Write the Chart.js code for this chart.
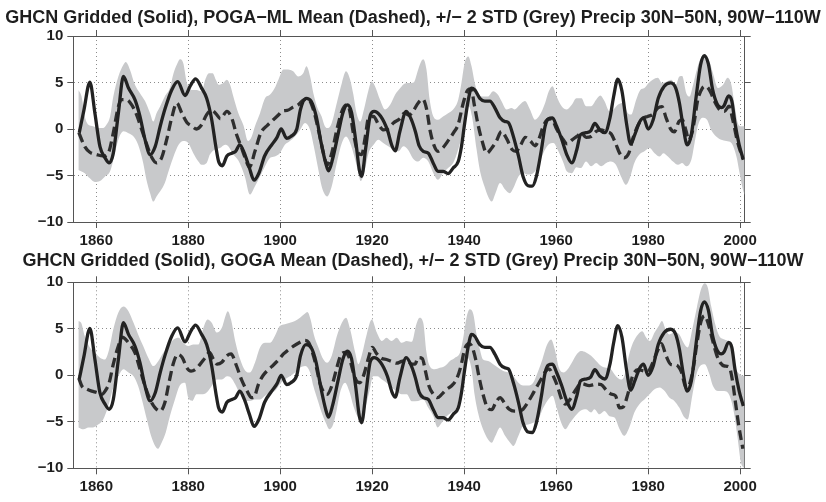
<!DOCTYPE html>
<html><head><meta charset="utf-8">
<script src="https://cdn.jsdelivr.net/npm/chart.js@4.4.1/dist/chart.umd.min.js"></script>
<style>html,body{margin:0;padding:0;background:#fff;}canvas{display:block;}</style>
</head><body>
<canvas id="c1" width="826" height="251"></canvas>
<canvas id="c2" width="826" height="251"></canvas>
<script>
const titleTop = "GHCN Gridded (Solid), POGA\u2212ML Mean (Dashed), +/\u2212 2 STD (Grey) Precip 30N\u221250N, 90W\u2212110W";
const titleBottom = "GHCN Gridded (Solid), GOGA Mean (Dashed), +/\u2212 2 STD (Grey) Precip 30N\u221250N, 90W\u2212110W";
const xTickValues = [1860,1880,1900,1920,1940,1960,1980,2000];
const yTickValues = [-10,-5,0,5,10];
const xRange = [1855, 2001];
const yRange = [-10, 10];

// GHCN gridded observations (solid line, same in both panels)
const ghcnYears = [1856.3,1857.3,1858.6,1859.7,1860.8,1861.9,1862.8,1863.7,1864.8,1865.9,1867.0,1868.4,1869.5,1870.6,1871.7,1872.8,1873.9,1875.0,1876.4,1877.7,1879.3,1880.4,1881.6,1882.9,1884.0,1885.1,1886.0,1886.6,1887.4,1888.4,1889.5,1890.3,1891.2,1892.2,1893.3,1894.3,1895.4,1896.6,1898.3,1899.3,1900.2,1901.4,1902.3,1903.6,1904.4,1905.6,1906.7,1907.8,1908.9,1909.9,1910.5,1911.4,1912.6,1913.6,1914.6,1915.5,1916.4,1917.2,1917.7,1918.6,1919.6,1920.4,1921.8,1923.3,1924.3,1925.0,1926.0,1927.4,1928.6,1929.4,1930.2,1931.1,1932.2,1933.3,1934.3,1935.4,1936.5,1937.6,1938.7,1939.4,1940.1,1940.9,1941.6,1942.3,1943.4,1944.5,1945.6,1946.7,1947.8,1948.9,1949.6,1950.7,1951.8,1952.8,1953.9,1954.8,1955.7,1956.8,1957.6,1958.3,1959.2,1960.1,1961.2,1962.3,1963.4,1964.5,1965.3,1966.5,1967.5,1968.4,1969.5,1970.6,1971.7,1972.5,1973.4,1974.3,1975.3,1976.2,1977.1,1978.2,1979.0,1980.0,1981.1,1982.2,1983.5,1984.9,1986.0,1986.8,1987.6,1988.5,1989.4,1990.4,1991.4,1992.2,1993.1,1994.0,1995.0,1995.9,1996.5,1997.5,1998.2,1998.9,1999.8,2000.7];
const ghcnValues = [-0.4,2.0,5.05,1.7,-1.9,-3.1,-3.65,-2.6,1.7,5.65,4.4,3.15,1.35,-1.15,-2.75,-1.9,0.3,2.25,4.2,5.1,3.6,4.6,5.4,4.4,3.3,1.0,-1.9,-3.5,-3.95,-2.9,-2.6,-2.4,-1.7,-2.6,-4.2,-5.5,-4.7,-2.9,-1.6,-0.9,0.0,-1.0,-0.8,0.0,2.1,3.3,3.0,1.4,-1.5,-3.7,-4.5,-3.2,-0.5,1.7,2.6,1.8,-1.2,-4.4,-5.1,-2.0,1.5,1.9,1.4,-0.1,-1.8,-2.35,-0.3,1.9,0.9,-0.3,-1.8,-2.4,-2.6,-3.7,-4.55,-4.55,-4.8,-4.2,-3.5,-1.9,0.6,3.15,4.4,4.2,3.3,3.0,3.0,2.25,1.2,0.8,0.7,-0.8,-2.9,-5.1,-6.1,-6.15,-5.1,-2.2,0.3,1.1,1.2,0.3,-1.1,-2.75,-3.65,-2.2,-0.6,-0.4,-0.2,0.6,-0.1,-0.4,1.2,3.5,5.35,4.1,0.6,-1.6,-0.6,0.8,1.2,0.0,1.0,3.3,4.6,4.95,4.4,2.8,0.3,-1.7,-0.6,3.3,6.9,7.9,7.0,4.3,2.7,2.3,2.5,3.55,3.0,0.6,-1.7,-3.3];

// POGA-ML ensemble mean (dashed, top panel) and its +/- 2 STD band
const pogaYears = [1856.2,1857.5,1858.6,1860.1,1861.5,1862.6,1863.7,1864.8,1865.6,1866.6,1867.7,1868.8,1869.9,1871.0,1872.1,1873.1,1874.2,1875.3,1876.4,1877.5,1878.6,1879.7,1880.8,1881.8,1882.9,1884.0,1885.1,1886.1,1887.0,1888.4,1889.5,1890.5,1891.5,1892.3,1893.3,1894.5,1895.8,1897.2,1898.5,1899.6,1900.5,1901.5,1902.8,1903.9,1905.0,1906.1,1907.2,1908.3,1909.4,1910.2,1911.2,1912.3,1913.4,1914.4,1915.0,1915.9,1917.0,1917.7,1918.5,1919.2,1920.3,1921.4,1922.5,1923.5,1924.6,1926.0,1927.0,1928.0,1929.0,1930.0,1931.0,1931.8,1932.6,1933.4,1934.3,1935.4,1936.6,1937.7,1938.7,1939.8,1940.8,1941.5,1942.2,1943.0,1943.9,1944.9,1946.0,1947.0,1948.1,1949.2,1950.4,1951.3,1952.2,1953.3,1954.4,1955.4,1956.3,1957.2,1958.1,1959.0,1960.1,1961.2,1962.4,1963.4,1964.5,1965.5,1966.5,1967.6,1968.7,1969.8,1970.9,1971.9,1972.9,1973.8,1974.8,1975.8,1976.7,1977.8,1978.8,1979.9,1981.0,1982.1,1983.0,1983.9,1984.9,1985.7,1986.7,1987.4,1988.3,1988.8,1989.6,1990.1,1990.8,1991.8,1992.5,1993.5,1994.4,1995.5,1996.6,1997.6,1998.4,1999.5,2000.6];
const pogaValues = [-0.4,-1.9,-2.5,-2.75,-2.9,-2.6,-0.4,2.4,3.15,3.15,2.6,1.5,-0.1,-1.7,-3.1,-3.65,-3.1,-1.15,1.2,2.8,1.7,0.7,0.3,0.0,0.45,1.55,2.0,1.6,1.1,1.9,1.1,-0.6,-1.9,-3.0,-4.1,-2.4,-0.4,0.4,1.0,1.5,1.95,2.0,2.35,2.6,3.1,3.2,2.1,-0.1,-2.6,-3.85,-2.6,-0.1,1.9,2.6,2.2,-0.45,-2.6,-2.75,-0.8,1.2,1.35,0.45,-0.1,0.1,0.65,1.1,1.7,1.5,2.0,2.8,3.2,2.2,-0.2,-1.7,-2.4,-2.0,-1.2,-0.4,0.5,2.8,4.2,4.3,2.6,0.5,-1.3,-2.6,-2.05,-1.3,-0.25,-1.0,-2.2,-2.4,-1.8,-0.9,-1.3,-1.8,-1.0,0.3,1.0,1.1,0.0,-0.9,-1.6,-1.2,-0.8,-0.45,-0.9,-0.8,-0.25,-0.1,-0.3,-0.5,-1.5,-2.6,-3.1,-2.6,-1.0,0.4,1.1,1.35,1.55,2.25,2.4,1.2,0.0,-0.3,0.8,1.0,-0.3,-1.2,-0.3,1.0,3.15,4.4,4.6,4.05,3.0,2.1,1.9,2.45,1.0,-1.5,-3.2];
const pogaUpperYears = [1856.1,1856.8,1857.5,1858.3,1859.3,1860.4,1861.5,1862.2,1863.0,1863.7,1864.8,1865.9,1866.4,1867.3,1868.4,1869.5,1870.6,1871.7,1872.4,1873.1,1873.9,1874.9,1876.0,1876.8,1877.5,1878.2,1878.9,1879.7,1880.8,1881.8,1882.9,1883.7,1884.5,1885.3,1886.0,1886.6,1887.6,1888.4,1889.1,1889.8,1890.9,1892.0,1893.0,1893.8,1894.5,1895.6,1896.7,1897.8,1898.8,1899.6,1900.7,1901.7,1902.8,1903.9,1905.0,1905.7,1906.5,1907.2,1908.1,1909.0,1909.7,1910.4,1911.2,1912.3,1913.4,1914.3,1915.2,1915.9,1916.6,1917.4,1918.2,1919.2,1919.9,1920.6,1921.7,1922.8,1923.9,1925.0,1926.1,1927.1,1928.2,1929.0,1930.0,1930.7,1931.1,1931.8,1932.5,1933.3,1934.3,1935.4,1936.5,1937.6,1938.7,1939.4,1940.1,1940.9,1941.6,1942.3,1943.0,1944.1,1945.2,1946.3,1947.3,1948.1,1949.2,1950.3,1951.0,1952.1,1953.2,1954.3,1955.4,1956.5,1957.6,1958.4,1959.2,1960.1,1961.2,1962.3,1963.4,1964.4,1965.5,1966.5,1967.6,1968.7,1969.6,1970.5,1971.6,1972.5,1973.4,1974.5,1975.6,1976.3,1977.4,1978.3,1979.2,1980.1,1981.0,1982.1,1983.0,1984.1,1985.0,1986.0,1986.8,1987.4,1988.3,1989.0,1989.7,1990.6,1991.3,1992.3,1993.2,1994.1,1995.2,1996.3,1997.3,1998.1,1998.8,1999.5,2000.2,2001.0];
const pogaUpperValues = [4.2,3.5,1.35,0.45,0.3,0.1,0.1,0.45,1.35,3.5,5.65,6.9,7.2,6.4,4.75,3.85,3.0,1.7,0.8,1.7,2.45,3.5,4.4,6.0,6.9,7.5,7.1,4.95,4.2,4.2,4.05,5.3,6.0,6.0,5.3,4.75,4.95,5.3,4.75,3.5,1.7,0.4,-1.3,-0.8,0.3,1.7,3.3,3.7,4.4,5.3,6.4,6.4,6.2,5.65,6.0,6.75,5.65,3.85,2.25,1.35,0.3,0.1,0.65,2.8,4.95,6.2,5.3,3.7,1.7,0.8,2.1,4.2,5.1,4.6,3.15,2.1,2.6,3.7,4.4,4.9,4.95,5.0,6.4,7.3,7.5,6.4,3.15,1.35,1.0,1.35,1.7,2.1,3.15,4.95,7.1,7.8,6.75,4.95,3.85,3.5,3.5,4.05,3.7,3.0,2.1,2.25,2.1,2.6,3.0,2.1,1.0,1.55,2.8,4.05,4.6,3.5,2.45,2.1,2.6,3.3,3.3,2.45,2.45,3.15,3.6,3.0,1.9,2.1,2.6,2.8,1.7,1.55,3.15,4.2,4.4,4.95,5.3,5.5,4.95,5.1,5.3,4.75,5.65,5.7,3.85,3.5,4.6,6.4,7.45,8.0,7.45,6.0,4.4,4.75,5.5,4.75,2.6,0.65,0.3,0.3];
const pogaLowerYears = [1856.1,1857.5,1858.6,1859.7,1860.8,1861.9,1863.0,1863.9,1864.8,1865.9,1867.0,1868.1,1869.1,1870.2,1870.9,1871.7,1872.4,1873.1,1873.9,1874.9,1875.8,1876.8,1877.9,1878.9,1880.0,1881.1,1882.2,1882.9,1884.0,1884.7,1885.8,1886.9,1888.0,1888.7,1889.8,1890.9,1892.3,1893.4,1894.5,1895.6,1896.7,1897.8,1898.8,1899.9,1901.0,1902.1,1903.2,1904.3,1905.4,1906.5,1907.3,1908.3,1909.0,1909.7,1910.2,1911.2,1912.3,1913.4,1914.3,1915.2,1916.3,1917.0,1917.5,1918.4,1919.2,1920.3,1921.3,1922.4,1923.5,1924.6,1925.7,1926.8,1927.9,1928.9,1930.0,1931.1,1932.2,1933.3,1934.3,1935.4,1936.5,1937.6,1938.7,1939.6,1940.3,1941.0,1941.7,1942.7,1943.4,1944.4,1945.2,1946.0,1946.8,1947.8,1948.9,1949.9,1950.7,1951.8,1952.8,1953.9,1955.0,1956.1,1957.2,1958.3,1959.4,1960.5,1961.6,1962.3,1963.4,1964.4,1965.4,1966.5,1967.6,1968.7,1969.8,1970.9,1971.9,1973.0,1974.1,1975.2,1976.0,1977.0,1978.1,1979.2,1980.3,1981.4,1982.5,1983.3,1984.3,1985.4,1986.5,1987.4,1988.3,1989.4,1990.1,1990.8,1991.8,1992.8,1993.7,1994.8,1995.9,1997.0,1998.1,1999.2,1999.9,2000.6,2001.0];
const pogaLowerValues = [-4.4,-4.75,-5.3,-5.7,-5.6,-5.1,-4.55,-2.95,-1.15,-0.25,-0.45,-0.8,-1.7,-3.65,-5.45,-6.9,-7.8,-7.25,-6.7,-5.8,-4.4,-2.95,-1.7,-1.3,-1.5,-2.6,-3.5,-3.85,-3.65,-2.75,-2.2,-2.05,-1.7,-1.85,-2.75,-3.4,-5.1,-7.05,-6.15,-5.1,-4.0,-3.1,-2.95,-2.6,-1.7,-1.3,-0.8,-0.1,0.65,-0.1,-1.85,-4.4,-6.15,-7.05,-7.25,-6.15,-3.65,-1.5,-0.8,-1.5,-3.3,-4.75,-5.6,-4.4,-2.6,-1.7,-1.15,-1.5,-1.85,-2.2,-2.4,-1.85,-2.3,-3.2,-3.5,-3.1,-3.5,-4.75,-5.45,-4.75,-4.2,-3.65,-2.2,-0.45,1.7,2.45,1.35,-2.2,-4.4,-6.15,-7.25,-7.8,-6.9,-5.8,-6.5,-6.9,-6.35,-5.1,-4.75,-4.9,-4.75,-4.0,-2.6,-1.7,-1.5,-2.4,-3.65,-4.55,-4.75,-4.1,-4.2,-3.5,-4.0,-3.65,-4.0,-3.65,-3.5,-3.85,-5.1,-6.0,-5.3,-3.65,-2.75,-2.4,-2.05,-2.6,-2.95,-2.6,-2.95,-3.5,-3.85,-3.65,-4.0,-3.3,-1.5,0.3,1.2,1.0,-0.1,-0.8,-1.15,-1.3,-1.5,-2.95,-4.75,-6.5,-7.1];

// GOGA ensemble mean (dashed, bottom panel) and its +/- 2 STD band
const gogaYears = [1856.2,1856.9,1858.0,1859.0,1860.1,1861.2,1861.9,1862.8,1863.7,1864.8,1865.7,1866.3,1867.3,1868.4,1869.5,1870.6,1871.7,1872.8,1873.9,1874.9,1875.8,1876.8,1877.7,1878.7,1879.7,1880.6,1881.6,1882.6,1883.7,1884.6,1885.5,1886.3,1887.3,1888.4,1889.3,1890.5,1891.6,1892.7,1893.8,1894.3,1895.3,1896.3,1897.4,1898.5,1899.7,1900.7,1901.7,1902.8,1904.1,1905.3,1906.2,1906.9,1907.8,1908.6,1909.5,1910.2,1911.2,1912.3,1913.1,1914.1,1915.0,1915.9,1916.6,1917.3,1918.2,1919.2,1920.0,1921.0,1922.1,1923.1,1924.2,1925.3,1926.4,1927.5,1928.6,1929.3,1930.0,1930.9,1931.6,1932.3,1933.3,1934.2,1935.1,1936.2,1937.2,1938.3,1939.3,1940.1,1941.0,1941.7,1942.5,1943.2,1944.1,1945.1,1946.0,1946.8,1947.8,1948.9,1949.8,1950.9,1951.9,1952.8,1953.8,1954.7,1955.7,1956.7,1957.6,1958.4,1959.4,1960.3,1961.2,1962.0,1963.0,1964.2,1965.5,1967.2,1968.7,1969.8,1970.9,1971.9,1972.9,1973.8,1974.6,1975.6,1976.6,1977.8,1978.8,1979.9,1981.0,1982.1,1982.9,1983.9,1985.0,1986.1,1987.2,1988.3,1989.1,1989.9,1990.6,1991.5,1992.3,1993.1,1994.1,1994.9,1995.7,1996.6,1997.6,1998.3,1999.0,1999.7,2000.6];
const gogaValues = [-0.3,-1.2,-1.5,-1.7,-1.85,-2.05,-1.7,-0.8,1.2,3.15,4.1,3.9,3.3,2.45,0.65,-1.15,-2.6,-3.5,-3.85,-2.95,-0.8,1.35,2.25,1.9,0.8,0.45,0.65,1.2,1.9,2.45,1.7,1.2,1.4,2.1,2.3,1.0,-0.5,-1.6,-2.4,-2.35,-0.9,0.0,0.6,1.1,1.7,2.3,2.7,3.1,3.5,3.75,3.5,2.6,1.0,-0.8,-1.85,-2.05,-1.15,0.8,2.1,2.45,1.9,0.3,-0.6,-0.8,0.1,1.9,3.0,2.3,1.8,1.7,1.5,1.3,1.5,1.6,1.2,1.2,1.9,1.8,0.4,-1.1,-2.05,-2.4,-2.05,-1.5,-1.15,-0.45,1.0,2.8,3.4,3.1,1.7,-0.1,-2.05,-3.5,-3.7,-3.0,-2.4,-3.1,-3.65,-3.85,-3.85,-3.65,-2.95,-2.2,-1.3,-0.45,0.35,0.7,-0.1,-1.2,-2.6,-3.1,-2.6,-1.6,-0.9,-1.1,-0.95,-1.0,-1.6,-2.0,-2.2,-3.5,-3.4,-2.0,-0.1,0.6,0.5,0.4,1.35,2.7,3.4,2.1,1.15,1.1,0.4,-1.35,-0.8,1.0,3.4,5.8,6.4,5.5,3.6,2.2,1.35,1.0,0.9,-0.45,-2.95,-5.4,-7.9];
const gogaUpperYears = [1856.1,1856.7,1857.5,1858.6,1859.7,1860.8,1861.9,1862.8,1863.7,1864.8,1865.9,1867.0,1868.1,1869.1,1870.2,1871.3,1872.4,1873.5,1874.6,1875.7,1876.8,1877.9,1878.9,1880.0,1881.1,1882.2,1883.3,1884.2,1885.1,1886.2,1887.3,1888.2,1888.6,1889.3,1890.2,1891.3,1892.4,1893.4,1894.5,1895.6,1896.7,1897.8,1898.8,1899.9,1901.0,1902.1,1903.2,1904.3,1905.4,1905.9,1906.6,1907.3,1908.3,1909.4,1910.2,1911.2,1912.3,1913.4,1914.3,1915.2,1916.3,1917.0,1917.7,1918.8,1919.9,1921.0,1922.1,1923.1,1924.2,1925.3,1926.4,1927.5,1928.6,1929.6,1930.3,1931.1,1931.8,1932.5,1933.6,1934.7,1935.8,1936.9,1938.0,1939.1,1939.8,1940.5,1941.2,1942.0,1942.7,1943.4,1944.1,1945.2,1946.3,1947.4,1948.5,1949.6,1950.7,1951.8,1952.8,1953.9,1955.0,1956.1,1957.0,1957.9,1958.9,1959.7,1960.6,1961.6,1962.5,1963.4,1964.4,1965.4,1966.5,1967.6,1968.7,1969.8,1970.9,1971.9,1973.0,1974.1,1974.8,1975.8,1976.7,1977.8,1978.7,1979.6,1980.4,1981.4,1982.3,1983.0,1983.8,1984.6,1985.7,1986.8,1987.7,1988.6,1989.6,1990.6,1991.5,1992.3,1993.0,1993.7,1994.7,1995.5,1996.6,1997.6,1998.3,1999.0,1999.9,2001.0];
const gogaUpperValues = [5.85,5.65,4.2,3.0,2.45,1.9,1.7,2.8,4.95,6.75,7.4,6.9,5.65,4.4,3.15,1.9,1.0,1.55,2.45,3.15,3.85,4.05,3.5,3.15,3.3,3.3,5.1,6.0,5.65,4.6,5.1,6.55,6.9,6.0,3.7,1.7,0.5,0.3,1.35,3.0,3.5,3.5,4.2,5.3,5.5,5.65,5.85,6.2,6.65,6.8,6.0,4.4,3.0,1.7,1.35,2.1,4.2,5.65,6.2,4.95,2.45,1.2,2.1,4.4,6.0,4.6,3.7,4.05,3.7,4.05,3.5,3.7,3.6,5.5,6.2,5.65,2.45,1.0,0.65,0.8,1.0,1.55,1.9,2.45,4.05,6.2,7.1,6.55,4.4,2.8,1.7,1.55,1.2,0.8,0.45,0.3,-0.1,-0.8,-1.1,-1.1,-0.8,0.45,1.7,3.15,3.85,2.8,0.8,0.3,0.65,1.35,2.2,2.6,2.45,2.1,1.55,1.0,0.8,0.65,-0.1,-0.45,-0.1,2.1,3.5,4.4,4.75,4.05,3.7,4.6,5.3,5.85,4.95,4.4,4.6,4.4,3.5,3.0,4.95,7.3,9.25,9.9,9.4,7.45,5.3,4.2,3.85,3.5,2.25,0.8,0.1,-0.1];
const gogaLowerYears = [1856.1,1857.2,1858.3,1859.3,1860.4,1861.5,1862.6,1863.7,1864.8,1865.9,1867.0,1868.1,1869.1,1870.0,1871.0,1871.9,1872.8,1873.4,1874.2,1875.1,1876.0,1877.1,1878.1,1879.3,1880.0,1880.9,1881.8,1882.9,1884.0,1885.1,1886.2,1887.3,1888.4,1889.3,1890.2,1891.3,1892.4,1893.4,1894.5,1895.6,1896.7,1897.8,1898.8,1899.9,1901.0,1902.1,1903.2,1904.3,1905.4,1906.5,1907.2,1908.1,1909.0,1909.9,1910.7,1911.5,1912.3,1913.1,1914.1,1915.0,1915.9,1916.8,1917.5,1918.4,1919.4,1920.2,1921.1,1922.1,1923.1,1924.2,1925.3,1926.4,1927.5,1928.6,1930.0,1931.1,1932.2,1933.3,1934.2,1935.1,1936.2,1937.2,1938.3,1939.3,1940.0,1940.7,1941.6,1942.3,1943.2,1944.1,1945.2,1946.0,1946.8,1947.8,1948.9,1950.0,1950.7,1951.8,1952.8,1953.9,1955.0,1956.1,1957.2,1958.3,1959.2,1960.1,1961.1,1962.0,1963.0,1964.1,1965.3,1966.5,1967.6,1968.3,1969.4,1970.5,1971.6,1972.7,1973.8,1974.8,1975.9,1977.0,1978.1,1979.2,1980.3,1981.4,1982.5,1983.6,1984.6,1985.7,1986.8,1987.7,1988.6,1989.6,1990.4,1991.3,1992.3,1993.2,1994.1,1995.2,1996.3,1997.3,1998.1,1998.8,1999.5,2000.2,2001.0];
const gogaLowerValues = [-5.6,-5.8,-5.6,-5.6,-5.3,-4.75,-3.3,-1.3,-0.1,0.65,0.3,-0.1,-1.15,-2.75,-4.75,-6.5,-7.6,-7.9,-7.25,-6.15,-4.4,-2.6,-1.15,-0.8,-2.4,-2.75,-2.05,-2.05,-1.85,-1.15,-0.45,-0.45,-0.1,-0.25,-0.95,-2.05,-2.75,-2.75,-2.6,-2.6,-2.2,-1.85,-1.7,-0.95,-0.45,-0.1,0.3,0.8,1.0,0.3,-1.15,-2.6,-4.0,-5.1,-5.8,-5.3,-3.65,-1.7,-0.8,-1.7,-3.3,-4.4,-4.55,-3.65,-1.7,-0.1,-0.1,-0.45,-0.8,-1.3,-1.7,-2.05,-2.05,-2.8,-2.75,-2.6,-3.5,-4.4,-5.6,-5.1,-4.4,-4.0,-3.5,-1.5,1.0,1.9,0.65,-2.2,-4.4,-5.8,-6.9,-7.25,-6.5,-5.6,-6.5,-7.25,-7.6,-6.5,-5.45,-5.3,-5.1,-4.75,-3.5,-2.6,-2.2,-3.5,-5.1,-5.8,-5.1,-4.4,-3.8,-3.65,-4.0,-3.65,-4.2,-3.85,-4.4,-4.55,-5.8,-6.5,-5.6,-4.0,-3.1,-2.6,-2.05,-1.5,-1.3,-1.7,-2.4,-2.75,-3.5,-4.4,-4.75,-2.2,-0.1,1.0,1.2,0.3,-1.15,-1.7,-1.7,-1.85,-2.75,-4.4,-6.9,-9.4,-10.0];

const FONT = '"Liberation Sans", Arial, Helvetica, sans-serif';
const INK = '#1e1e1e';
const AXIS = '#555555';
const GRIDC = '#8c8c8c';
const BAND = '#c8c9cb';

Chart.defaults.font.family = FONT;
Chart.defaults.color = INK;

const pts = (xs, ys) => xs.map((x, i) => ({x: x, y: ys[i]}));
const minus = v => String(v).replace('-', '\u2212');

function makePanel(id, title, meanX, meanY, upX, upY, loX, loY, lay) {
  const setTicks = vals => (s) => { s.ticks = vals.map(v => ({value: v})); };
  new Chart(document.getElementById(id), {
    type: 'line',
    data: {
      datasets: [
        {data: pts(loX, loY), borderWidth: 0, pointRadius: 0, fill: false, order: 4, cubicInterpolationMode: 'monotone'},
        {data: pts(upX, upY), borderWidth: 0, pointRadius: 0, fill: '-1', backgroundColor: BAND, order: 3, cubicInterpolationMode: 'monotone'},
        {data: pts(meanX, meanY), borderColor: '#2e2e2e', borderWidth: 3.3, borderDash: [10, 5], pointRadius: 0, fill: false, order: 1, cubicInterpolationMode: 'monotone'},
        {data: pts(ghcnYears, ghcnValues), borderColor: '#222222', borderWidth: 3.3, pointRadius: 0, fill: false, order: 0, cubicInterpolationMode: 'monotone'}
      ]
    },
    options: {
      responsive: false,
      animation: false,
      events: [],
      layout: {padding: {left: 0, right: 0, top: 0, bottom: 0}},
      plugins: {
        legend: {display: false},
        tooltip: {enabled: false},
        filler: {drawTime: 'beforeDatasetsDraw'},
        title: {display: true, text: title, color: INK,
          font: {family: FONT, size: 18, weight: 'bold', lineHeight: 1.0},
          padding: {top: lay.tTop, bottom: lay.tBottom}}
      },
      scales: {
        x: {type: 'linear', position: 'bottom', min: xRange[0], max: xRange[1],
          afterBuildTicks: setTicks(xTickValues),
          afterFit: s => { s.height = lay.xh; },
          ticks: {font: {size: 15, weight: 'bold'}, color: INK, padding: 4, maxRotation: 0, callback: v => String(v)},
          grid: {display: true, drawOnChartArea: true, color: GRIDC, lineWidth: 1, tickLength: 6, tickColor: AXIS, tickWidth: 1, tickBorderDash: []},
          border: {display: true, color: AXIS, width: 1, dash: [1, 3]}},
        x2: {type: 'linear', position: 'top', min: xRange[0], max: xRange[1],
          afterBuildTicks: setTicks(xTickValues),
          afterFit: s => { s.height = 6; },
          ticks: {display: false},
          grid: {display: true, drawOnChartArea: false, tickLength: 6, tickColor: AXIS, tickWidth: 1},
          border: {display: true, color: AXIS, width: 1}},
        y: {type: 'linear', position: 'left', min: yRange[0], max: yRange[1],
          afterBuildTicks: setTicks(yTickValues),
          afterFit: s => { s.width = 73.3; },
          ticks: {font: {size: 15, weight: 'bold'}, color: INK, padding: 4, callback: v => minus(v)},
          grid: {display: true, drawOnChartArea: true, color: GRIDC, lineWidth: 1, tickLength: 6, tickColor: AXIS, tickWidth: 1, tickBorderDash: []},
          border: {display: true, color: AXIS, width: 1, dash: [1, 3]}},
        y2: {type: 'linear', position: 'right', min: yRange[0], max: yRange[1],
          afterBuildTicks: setTicks(yTickValues),
          afterFit: s => { s.width = 81.3; },
          ticks: {display: false},
          grid: {display: true, drawOnChartArea: false, tickLength: 6, tickColor: AXIS, tickWidth: 1},
          border: {display: true, color: AXIS, width: 1}}
      }
    }
  });
}

makePanel('c1', titleTop, pogaYears, pogaValues, pogaUpperYears, pogaUpperValues, pogaLowerYears, pogaLowerValues,
  {tTop: 9, tBottom: 3, xh: 29});
makePanel('c2', titleBottom, gogaYears, gogaValues, gogaUpperYears, gogaUpperValues, gogaLowerYears, gogaLowerValues,
  {tTop: 1, tBottom: 6.3, xh: 33.7});
</script>
</body></html>
